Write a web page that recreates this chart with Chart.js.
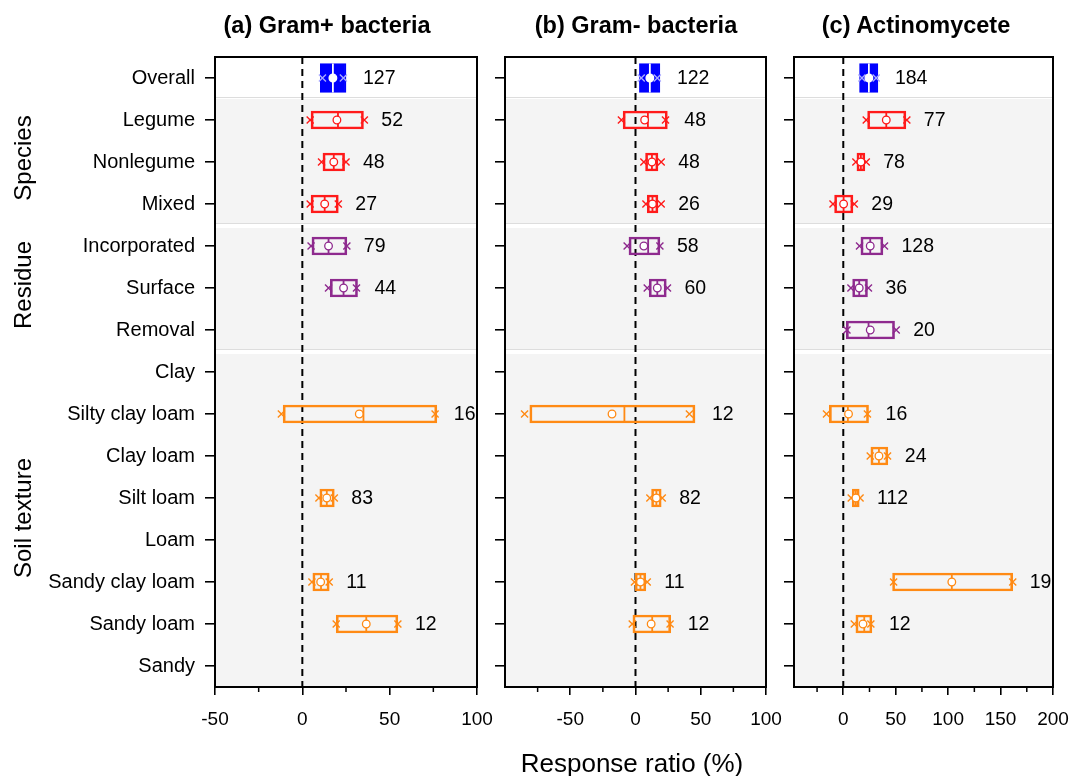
<!DOCTYPE html>
<html>
<head>
<meta charset="utf-8">
<script src="https://cdn.jsdelivr.net/npm/chart.js@4.4.1/dist/chart.umd.min.js"></script>
<style>
  body { margin:0; background:#fff; width:1071px; height:776px; position:relative; overflow:hidden;
         font-family:"Liberation Sans", Arial, sans-serif; }
  canvas { position:absolute; top:0; }
  .t { position:absolute; transform:translate(-50%,-50%); white-space:nowrap; color:#000; }
  .title { font-weight:bold; font-size:23.5px; }
  .grp { font-size:24px; transform:translate(-50%,-50%) rotate(-90deg); }
  .xt { font-size:26px; }
</style>
</head>
<body>
<canvas id="c1" width="505" height="776" style="left:0px"></canvas>
<canvas id="c2" width="310" height="776" style="left:480px"></canvas>
<canvas id="c3" width="301" height="776" style="left:770px"></canvas>

<div class="t title" style="left:327px;top:25px">(a) Gram+ bacteria</div>
<div class="t title" style="left:636px;top:25px">(b) Gram- bacteria</div>
<div class="t title" style="left:916px;top:25px">(c) Actinomycete</div>
<div class="t grp" style="left:23px;top:158px">Species</div>
<div class="t grp" style="left:23px;top:285px">Residue</div>
<div class="t grp" style="left:23px;top:518px">Soil texture</div>
<div class="t xt" style="left:632px;top:763px">Response ratio (%)</div>

<script>
// categories, top to bottom
const cats = ['Overall','Legume','Nonlegume','Mixed','Incorporated','Surface','Removal','Clay',
  'Silty clay loam','Clay loam','Silt loam','Loam','Sandy clay loam','Sandy loam','Sandy'];
const groupStarts = [1, 4, 7];

// (a) Gram+ bacteria
const aQ1   = [10.3, 5, 11.8, 5, 5.5, 16, null, null, -11, null, 10, null, 6, 19.4, null];
const aQ3   = [25, 35, 24.2, 20.6, 25.5, 31.6, null, null, 77, null, 18.3, null, 15.4, 54.7, null];
const aMed  = [17.5, 20.4, 18, 12.8, 15, 23.6, null, null, 35, null, 14, null, 10.7, 36.6, null];
const aMean = [17.5, 19.8, 18, 12.8, 15, 23.6, null, null, 32.6, null, 14, null, 10.5, 36.6, null];
const aLo   = [11.5, 4.5, 11, 4.5, 5, 15, null, null, -12, null, 9.5, null, 5.5, 19.4, null];
const aHi   = [23.5, 35.5, 25, 20.6, 25.5, 31, null, null, 76, null, 18.3, null, 15.4, 54.7, null];
const aN    = [127, 52, 48, 27, 79, 44, null, null, 16, null, 83, null, 11, 12, null];

// (b) Gram- bacteria
const bQ1   = [3, -9.5, 7.7, 9, -5, 10.5, null, null, -81, null, 12.3, null, -0.3, -2, null];
const bQ3   = [18.7, 24.4, 17.2, 17.2, 18.7, 23.6, null, null, 45.6, null, 19.7, null, 7.9, 27, null];
const bMed  = [11, 9.5, 12.6, 13, 9.7, 16.7, null, null, -8.5, null, 16, null, 3.8, 12.8, null];
const bMean = [11, 7, 12.6, 13, 6.4, 16.7, null, null, -18, null, 16, null, 3.8, 12, null];
const bLo   = [4.4, -10.8, 6.4, 8, -6.4, 9, null, null, -85, null, 11, null, -0.8, -2.5, null];
const bHi   = [16.7, 23, 19.7, 19.7, 18.7, 24.5, null, null, 41.3, null, 20.5, null, 9, 26.5, null];
const bN    = [122, 48, 48, 26, 58, 60, null, null, 12, null, 82, null, 11, 12, null];

// (c) Actinomycete
const cQ1   = [15.5, 23.2, 13, -8.3, 16.8, 8.9, 2.9, null, -13.3, 26.3, 8.6, null, 47, 12, null];
const cQ3   = [33, 59.7, 20.6, 9.2, 37.8, 23.1, 48.9, null, 24.1, 42.5, 15.2, null, 161.6, 27.3, null];
const cMed  = [24.4, 41, 16.8, 0.3, 25.7, 15.2, 24.1, null, 4.4, 34, 12, null, 103.5, 20, null];
const cMean = [24.4, 41, 16.8, 0.3, 25.7, 15.2, 25.7, null, 5, 34, 12, null, 103.5, 18.8, null];
const cLo   = [17.8, 21.9, 12, -9.8, 15.5, 7.3, 3.5, null, -16, 25.7, 7.6, null, 48, 10.5, null];
const cHi   = [31.4, 60.6, 21.9, 10.5, 39.3, 24, 50.5, null, 23, 42.2, 16, null, 161.6, 26.3, null];
const cN    = [184, 77, 78, 29, 128, 36, 20, null, 16, 24, 112, null, 19, 12, null];

// axis ticks
const aMajor = [-50, 0, 50, 100],       aMinor = [-25, 25, 75];
const bMajor = [-50, 0, 50, 100],       bMinor = [-75, -25, 25, 75];
const cMajor = [0, 50, 100, 150, 200],  cMinor = [-25, 25, 75, 125, 175];

const BLUE = '#0000ff', RED = '#ff1a1a', PURPLE = '#8e2a8e', ORANGE = '#ff8a14';
const rowColor = cats.map((c, i) => i === 0 ? BLUE : i < 4 ? RED : i < 7 ? PURPLE : ORANGE);
const markColor = rowColor.map((c, i) => i === 0 ? '#a8a8ff' : c);
const medColor = rowColor.map((c, i) => i === 0 ? '#ffffff' : c);

Chart.defaults.font.family = '"Liberation Sans", Arial, sans-serif';
Chart.defaults.color = '#000';

const extras = {
  id: 'extras',
  beforeDatasetsDraw(chart) {
    const {ctx, chartArea: a, scales: {x, y}} = chart;
    ctx.save();
    const top1 = (y.getPixelForValue(0) + y.getPixelForValue(1)) / 2;
    ctx.fillStyle = '#f4f4f4';
    ctx.fillRect(a.left, top1, a.width, a.bottom - top1);
    groupStarts.forEach(i => {
      const yy = (y.getPixelForValue(i - 1) + y.getPixelForValue(i)) / 2;
      if (i > 1) { ctx.fillStyle = '#ffffff'; ctx.fillRect(a.left, yy - 1, a.width, 4); }
      ctx.fillStyle = '#dddddd'; ctx.fillRect(a.left, yy - 2, a.width, 1);
    });
    const x0 = x.getPixelForValue(0);
    ctx.setLineDash([7, 5]);
    ctx.strokeStyle = '#000'; ctx.lineWidth = 2;
    ctx.beginPath(); ctx.moveTo(x0, a.top); ctx.lineTo(x0, a.bottom); ctx.stroke();
    ctx.restore();
  },
  afterDatasetDraw(chart, args) {
    if (args.meta.type !== 'bar') return;
    const {ctx, scales: {x}} = chart;
    const med = chart.options.plugins.extras.med;
    ctx.save();
    ctx.lineWidth = 1.8;
    args.meta.data.forEach((el, i) => {
      const raw = chart.data.datasets[args.index].data[i];
      if (raw == null || med[i] == null) return;
      const px = x.getPixelForValue(med[i]);
      ctx.strokeStyle = medColor[i];
      ctx.beginPath(); ctx.moveTo(px, el.y - el.height / 2); ctx.lineTo(px, el.y + el.height / 2); ctx.stroke();
    });
    ctx.restore();
  },
  afterDraw(chart) {
    const {ctx, chartArea: a, scales: {x, y}} = chart;
    const o = chart.options.plugins.extras;
    ctx.save();
    ctx.strokeStyle = '#000'; ctx.lineWidth = 2;
    ctx.strokeRect(a.left, a.top, a.width, a.height);
    ctx.lineWidth = 1.5;
    o.minor.forEach(v => {
      const px = x.getPixelForValue(v);
      ctx.beginPath(); ctx.moveTo(px, a.bottom); ctx.lineTo(px, a.bottom + 5); ctx.stroke();
    });
    // sample sizes
    ctx.font = '19.5px "Liberation Sans", Arial, sans-serif';
    ctx.fillStyle = '#000'; ctx.textBaseline = 'middle'; ctx.textAlign = 'left';
    o.n.forEach((n, i) => {
      if (n == null) return;
      const right = Math.max(x.getPixelForValue(o.q3[i]), x.getPixelForValue(o.hi[i]));
      ctx.fillText(String(n), right + 17, y.getPixelForValue(i) + 1);
    });
    ctx.restore();
  }
};

function makeChart(id, d) {
  const overallBox = cats.map((c, i) => i === 0 ? [d.q1[i], d.q3[i]] : null);
  const otherBox = cats.map((c, i) => i > 0 && d.q1[i] != null ? [d.q1[i], d.q3[i]] : null);
  return new Chart(document.getElementById(id), {
    type: 'bar',
    data: {
      labels: cats,
      datasets: [
        { type: 'line', indexAxis: 'y', data: d.mean, showLine: false, order: 1,
          pointStyle: 'circle', pointRadius: 3.8, pointBorderWidth: 1.3,
          pointBackgroundColor: '#ffffff', pointBorderColor: medColor },
        { type: 'line', indexAxis: 'y', data: d.lo, showLine: false, order: 2,
          pointStyle: 'crossRot', pointRadius: 5, pointBorderWidth: 1.4, pointBorderColor: markColor },
        { type: 'line', indexAxis: 'y', data: d.hi, showLine: false, order: 2,
          pointStyle: 'crossRot', pointRadius: 5, pointBorderWidth: 1.4, pointBorderColor: markColor },
        { data: overallBox, order: 3, grouped: false, barThickness: 29, borderSkipped: false,
          backgroundColor: BLUE, borderColor: BLUE, borderWidth: 1.5 },
        { data: otherBox, order: 4, grouped: false, barThickness: 18, borderSkipped: false,
          backgroundColor: 'rgba(0,0,0,0)', borderColor: rowColor, borderWidth: 2 }
      ]
    },
    options: {
      indexAxis: 'y',
      responsive: false,
      animation: false,
      layout: { autoPadding: false, padding: { left: 0, right: d.padR, top: 57, bottom: 49 } },
      plugins: {
        legend: { display: false },
        tooltip: { enabled: false },
        extras: { med: d.med, n: d.n, q3: d.q3, hi: d.hi, minor: d.minor }
      },
      scales: {
        x: {
          type: 'linear', min: d.min, max: d.max,
          afterBuildTicks: s => { s.ticks = d.major.map(v => ({ value: v })); },
          afterFit: s => { s.height = 40; s.paddingLeft = 0; s.paddingRight = 0; },
          ticks: { font: { size: 19 }, padding: 13, color: '#000' },
          grid: { drawOnChartArea: false, tickLength: 8, color: '#000', lineWidth: 1.6 },
          border: { display: false }
        },
        y: {
          afterFit: s => { s.width = d.yW; s.paddingTop = 0; s.paddingBottom = 0; },
          ticks: { display: d.showY, font: { size: 20 }, padding: 10, color: '#000' },
          grid: { offset: false, drawOnChartArea: false, tickLength: 10, color: '#000', lineWidth: 1.6 },
          border: { display: false }
        }
      }
    },
    plugins: [extras]
  });
}

makeChart('c1', { q1: aQ1, q3: aQ3, med: aMed, mean: aMean, lo: aLo, hi: aHi, n: aN,
  min: -50, max: 100, major: aMajor, minor: aMinor, yW: 215, padR: 28, showY: true });
makeChart('c2', { q1: bQ1, q3: bQ3, med: bMed, mean: bMean, lo: bLo, hi: bHi, n: bN,
  min: -100, max: 100, major: bMajor, minor: bMinor, yW: 25, padR: 24, showY: false });
makeChart('c3', { q1: cQ1, q3: cQ3, med: cMed, mean: cMean, lo: cLo, hi: cHi, n: cN,
  min: -47, max: 200, major: cMajor, minor: cMinor, yW: 24, padR: 18, showY: false });
</script>
</body>
</html>
